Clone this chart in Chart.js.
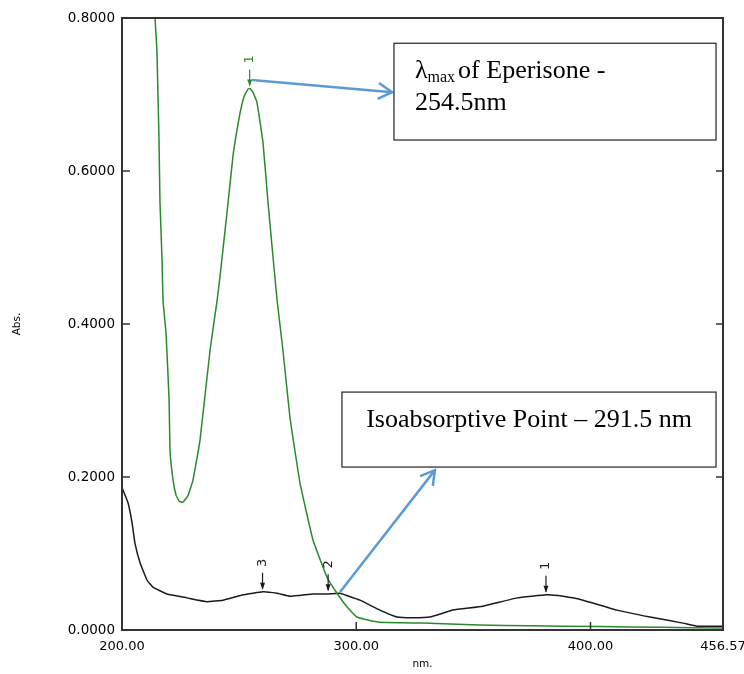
<!DOCTYPE html>
<html>
<head>
<meta charset="utf-8">
<script src="https://cdn.jsdelivr.net/npm/chart.js@4.4.0/dist/chart.umd.min.js"></script>
<style>
  html, body { margin: 0; padding: 0; background: #fff; }
</style>
</head>
<body>
<canvas id="spectrum" width="744" height="674"></canvas>
<script>
// Eperisone spectrum (green)
const greenNm = [213.0, 214.1, 214.9, 215.4, 215.8, 216.2, 217.1, 217.5, 218.8, 220.1, 220.5, 221.8, 223.1, 224.5, 226.0, 228.2, 230.3, 233.3, 237.6, 240.6, 241.8, 244.8, 247.4, 249.0, 250.4, 252.1, 253.8, 254.6, 255.9, 257.6, 260.2, 262.3, 266.2, 268.7, 271.7, 276.0, 281.5, 287.5, 291.8, 296.1, 300.3, 305.0, 310.1, 320.0, 328.5, 340.0, 352.8, 374.0, 404.0, 430.0, 456.57];
const greenAbs = [0.90, 0.800, 0.758, 0.693, 0.641, 0.560, 0.484, 0.431, 0.388, 0.301, 0.235, 0.196, 0.176, 0.168, 0.167, 0.176, 0.196, 0.248, 0.366, 0.431, 0.461, 0.545, 0.620, 0.652, 0.676, 0.697, 0.707, 0.708, 0.703, 0.690, 0.637, 0.560, 0.431, 0.366, 0.278, 0.192, 0.118, 0.069, 0.048, 0.030, 0.017, 0.013, 0.010, 0.0095, 0.009, 0.008, 0.0065, 0.0055, 0.0045, 0.0035, 0.0025];

// second component (black)
const blackNm = [200.0, 200.4, 202.6, 204.3, 205.5, 207.7, 210.7, 213.2, 219.2, 227.7, 236.3, 243.1, 251.7, 260.2, 266.2, 271.7, 281.5, 287.5, 293.1, 296.0, 301.6, 310.1, 317.4, 324.2, 331.5, 341.3, 354.1, 368.6, 381.4, 388.3, 396.8, 411.3, 425.4, 439.5, 445.5, 452.3, 456.57];
const blackAbs = [0.186, 0.183, 0.166, 0.140, 0.114, 0.088, 0.065, 0.056, 0.047, 0.042, 0.037, 0.039, 0.046, 0.050, 0.048, 0.044, 0.047, 0.047, 0.048, 0.045, 0.039, 0.026, 0.017, 0.016, 0.017, 0.026, 0.031, 0.042, 0.046, 0.044, 0.039, 0.026, 0.017, 0.009, 0.005, 0.005, 0.005];

// peak picks
const greenPeakNm = [254.5];
const greenPeakAbs = [0.708];
const greenPeakLabels = ['1'];
const blackPeakNm = [260.0, 288.0, 381.0];
const blackPeakAbs = [0.050, 0.048, 0.046];
const blackPeakLabels = ['3', '2', '1'];

// axis ticks
const xTicks = [200, 300, 400, 456.57];
const yTicks = [0, 0.2, 0.4, 0.6, 0.8];

// callout boxes / arrows in data units
const boxLambda = { x1: 316.1, x2: 453.6, y1: 0.767, y2: 0.6405 };
const boxIso = { x1: 293.9, x2: 453.6, y1: 0.311, y2: 0.213 };
const arrowLambda = { from: [255.5, 0.719], to: [315.3, 0.703] };
const arrowIso = { from: [293.1, 0.0497], to: [333.6, 0.209] };

const GREEN = '#2a8a2a';
const BLACK = '#1a1a1a';
const BLUE = '#5b9bd5';
const SANS = '"DejaVu Sans", Verdana, sans-serif';
const SERIF = '"Liberation Serif", "Times New Roman", serif';

function toXY(xs, ys) {
    return xs.map((x, i) => ({ x: x, y: ys[i] }));
}

function drawArrowHead(ctx, x1, y1, x2, y2, len) {
    const a = Math.atan2(y2 - y1, x2 - x1);
    ctx.beginPath();
    ctx.moveTo(x2 - len * Math.cos(a - Math.PI / 6), y2 - len * Math.sin(a - Math.PI / 6));
    ctx.lineTo(x2, y2);
    ctx.lineTo(x2 - len * Math.cos(a + Math.PI / 6), y2 - len * Math.sin(a + Math.PI / 6));
    ctx.stroke();
}

const decorPlugin = {
    id: 'decor',
    afterDatasetsDraw(chart) {
        const ctx = chart.ctx;
        const area = chart.chartArea;
        const xs = chart.scales.x;
        const ys = chart.scales.y;
        ctx.save();

        // frame
        ctx.strokeStyle = '#333';
        ctx.lineWidth = 2;
        ctx.strokeRect(area.left, area.top, area.right - area.left, area.bottom - area.top);

        // inward ticks
        ctx.lineWidth = 1.5;
        ctx.beginPath();
        yTicks.forEach(v => {
            const py = ys.getPixelForValue(v);
            ctx.moveTo(area.left, py); ctx.lineTo(area.left + 8, py);
            ctx.moveTo(area.right, py); ctx.lineTo(area.right - 7, py);
        });
        xTicks.slice(1, -1).forEach(v => {
            const px = xs.getPixelForValue(v);
            ctx.moveTo(px, area.bottom); ctx.lineTo(px, area.bottom - 8);
        });
        ctx.stroke();

        // peak markers
        function marker(nm, abs, label, color) {
            const px = xs.getPixelForValue(nm);
            const py = ys.getPixelForValue(abs);
            ctx.strokeStyle = color;
            ctx.fillStyle = color;
            ctx.lineWidth = 1.2;
            ctx.beginPath();
            ctx.moveTo(px, py - 19);
            ctx.lineTo(px, py - 3);
            ctx.stroke();
            ctx.beginPath();
            ctx.moveTo(px - 2.5, py - 9);
            ctx.lineTo(px + 2.5, py - 9);
            ctx.lineTo(px, py - 2);
            ctx.closePath();
            ctx.fill();
            ctx.save();
            ctx.translate(px, py - 29);
            ctx.rotate(-Math.PI / 2);
            ctx.font = '13px ' + SANS;
            ctx.textAlign = 'center';
            ctx.textBaseline = 'middle';
            ctx.fillText(label, 0, 0);
            ctx.restore();
        }
        greenPeakNm.forEach((nm, i) => marker(nm, greenPeakAbs[i], greenPeakLabels[i], GREEN));
        blackPeakNm.forEach((nm, i) => marker(nm, blackPeakAbs[i], blackPeakLabels[i], BLACK));

        // callout arrows
        ctx.strokeStyle = BLUE;
        ctx.lineWidth = 2.5;
        [arrowLambda, arrowIso].forEach(a => {
            const x1 = xs.getPixelForValue(a.from[0]), y1 = ys.getPixelForValue(a.from[1]);
            const x2 = xs.getPixelForValue(a.to[0]), y2 = ys.getPixelForValue(a.to[1]);
            ctx.beginPath();
            ctx.moveTo(x1, y1);
            ctx.lineTo(x2, y2);
            ctx.stroke();
            drawArrowHead(ctx, x1, y1, x2, y2, 16);
        });

        // callout boxes
        function box(b) {
            const l = xs.getPixelForValue(b.x1), r = xs.getPixelForValue(b.x2);
            const t = ys.getPixelForValue(b.y1), btm = ys.getPixelForValue(b.y2);
            ctx.fillStyle = '#fff';
            ctx.fillRect(l, t, r - l, btm - t);
            ctx.strokeStyle = '#222';
            ctx.lineWidth = 1.2;
            ctx.strokeRect(l, t, r - l, btm - t);
            return { l: l, r: r, t: t, b: btm };
        }
        const b1 = box(boxLambda);
        ctx.fillStyle = '#000';
        ctx.textBaseline = 'alphabetic';
        ctx.textAlign = 'left';
        ctx.font = '26px ' + SERIF;
        let tx = b1.l + 21;
        ctx.fillText('λ', tx, b1.t + 35);
        tx += ctx.measureText('λ').width;
        ctx.font = '16px ' + SERIF;
        ctx.fillText('max', tx, b1.t + 39);
        tx += ctx.measureText('max').width + 3;
        ctx.font = '26px ' + SERIF;
        ctx.fillText('of Eperisone -', tx, b1.t + 35);
        ctx.fillText('254.5nm', b1.l + 21, b1.t + 67);

        const b2 = box(boxIso);
        ctx.fillStyle = '#000';
        ctx.textAlign = 'center';
        ctx.fillText('Isoabsorptive Point – 291.5 nm', (b2.l + b2.r) / 2, b2.t + 35);

        ctx.restore();
    }
};

new Chart(document.getElementById('spectrum'), {
    type: 'line',
    data: {
        datasets: [
            {
                label: 'Eperisone',
                data: toXY(greenNm, greenAbs),
                borderColor: GREEN,
                borderWidth: 1.5,
                borderJoinStyle: 'round',
                pointRadius: 0,
                tension: 0.1
            },
            {
                label: 'Mixture',
                data: toXY(blackNm, blackAbs),
                borderColor: BLACK,
                borderWidth: 1.5,
                borderJoinStyle: 'round',
                pointRadius: 0,
                tension: 0.1
            }
        ]
    },
    options: {
        responsive: false,
        animation: false,
        devicePixelRatio: 1,
        layout: { padding: { top: 18, right: 21, left: 0, bottom: 0 } },
        plugins: {
            legend: { display: false },
            tooltip: { enabled: false }
        },
        scales: {
            x: {
                type: 'linear',
                min: 200,
                max: 456.57,
                grid: { display: false, drawTicks: false },
                border: { display: false },
                afterBuildTicks: s => { s.ticks = xTicks.map(v => ({ value: v })); },
                afterFit: s => { s.height = 44; s.paddingLeft = 0; s.paddingRight = 0; },
                ticks: {
                    maxRotation: 0,
                    padding: 9,
                    color: '#000',
                    font: { family: SANS, size: 13 },
                    callback: v => Number(v).toFixed(2)
                },
                title: {
                    display: true,
                    text: 'nm.',
                    color: '#000',
                    padding: 3,
                    font: { family: SANS, size: 10.5 }
                }
            },
            y: {
                min: 0,
                max: 0.8,
                grid: { display: false, drawTicks: false },
                border: { display: false },
                afterBuildTicks: s => { s.ticks = yTicks.map(v => ({ value: v })); },
                afterFit: s => { s.width = 122; s.paddingTop = 0; s.paddingBottom = 0; },
                ticks: {
                    padding: 7,
                    color: '#000',
                    font: { family: SANS, size: 13.5 },
                    callback: v => Number(v).toFixed(4)
                },
                title: {
                    display: true,
                    text: 'Abs.',
                    color: '#000',
                    padding: 11,
                    font: { family: SANS, size: 10.5 }
                }
            }
        }
    },
    plugins: [decorPlugin]
});
</script>
</body>
</html>
